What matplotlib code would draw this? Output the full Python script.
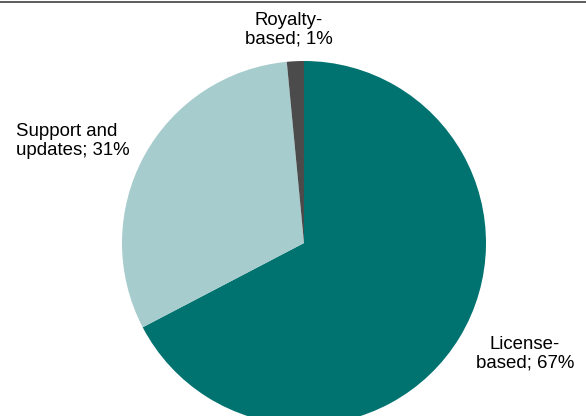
import matplotlib.pyplot as plt
from matplotlib.lines import Line2D

plt.rcParams["font.family"] = ["Liberation Sans", "DejaVu Sans"]

LABELS = ["License-\nbased; 67%", "Support and\nupdates; 31%", "Royalty-\nbased; 1%"]
VALUES = [67, 31, 1.5]
COLORS = ["#007370", "#a7cccd", "#4b4b4b"]

W, H = 586, 416


def main():
    fig = plt.figure(figsize=(W / 100, H / 100), dpi=100)
    ax = fig.add_axes([0, 0, 1, 1])

    ax.pie(VALUES, colors=COLORS, startangle=90, counterclock=False,
           center=(304, H - 243), radius=182,
           wedgeprops=dict(linewidth=0))

    # pie() resets the limits, so set the pixel frame afterwards
    ax.set_xlim(0, W)
    ax.set_ylim(0, H)
    ax.set_aspect("equal")
    ax.axis("off")

    fs = 13.4
    ax.text(525, H - 354, LABELS[0], ha="center", va="center", fontsize=fs, linespacing=1.1)
    ax.text(16, H - 141, LABELS[1], ha="left", va="center", fontsize=fs, linespacing=1.1)
    ax.text(289, H - 30, LABELS[2], ha="center", va="center", fontsize=fs, linespacing=1.1)

    # thin frame line along the top edge
    fig.add_artist(Line2D([0, 1], [1 - 1.5 / H, 1 - 1.5 / H], transform=fig.transFigure,
                          color="#404040", linewidth=1.2))

    fig.savefig("out.png", dpi=100)


if __name__ == "__main__":
    main()
